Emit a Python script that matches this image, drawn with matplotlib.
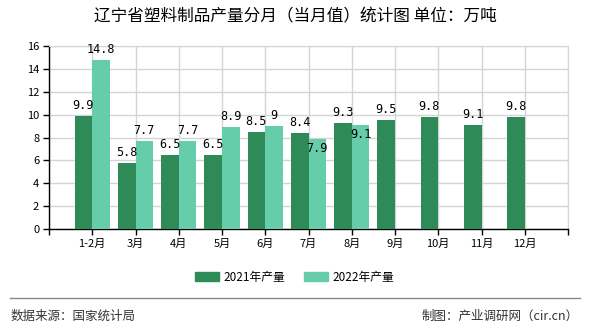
import matplotlib.pyplot as plt
from matplotlib.patches import Patch
from matplotlib.lines import Line2D

plt.rcParams['font.family'] = ['Noto Sans CJK SC', 'DejaVu Sans']

# ================
# Data
# ================
months = ['1-2月', '3月', '4月', '5月', '6月', '7月', '8月', '9月', '10月', '11月', '12月']
prod_2021 = [9.9, 5.8, 6.5, 6.5, 8.5, 8.4, 9.3, 9.5, 9.8, 9.1, 9.8]
prod_2022 = [14.8, 7.7, 7.7, 8.9, 9.0, 7.9, 9.1]
yticks = [0, 2, 4, 6, 8, 10, 12, 14, 16]

c21 = '#2e8b57'
c22 = '#66cdaa'

fig = plt.figure(figsize=(5.9, 3.3), dpi=100)
ax = fig.add_axes([49 / 590, 1 - 229 / 330, 519 / 590, 183 / 330])

w = 0.41
xs = list(range(1, len(months) + 1))
ax.bar([x - w / 2 for x in xs], prod_2021, width=w, color=c21, zorder=3)
ax.bar([x + w / 2 for x in xs[:len(prod_2022)]], prod_2022, width=w, color=c22, zorder=3)

def fmt(v):
    return f'{v:g}'

lab = dict(fontsize=8.5, family='DejaVu Sans Mono', zorder=4, ha='center')
for i, v in enumerate(prod_2021):
    ax.text(xs[i] - w / 2, v + 0.35, fmt(v), va='bottom', **lab)
for i, v in enumerate(prod_2022):
    if prod_2021[i] > v:
        # label sits inside the bar when the neighbour is taller
        ax.text(xs[i] + w / 2, v - 0.3, fmt(v), va='top', **lab)
    else:
        ax.text(xs[i] + w / 2, v + 0.35, fmt(v), va='bottom', **lab)

ax.set_xlim(0, 12)
ax.set_ylim(0, 16)
ax.set_yticks(yticks)
ax.set_xticks(range(0, 13))
ax.set_xticklabels([''] + months + [''], fontsize=8)
ax.tick_params(axis='y', labelsize=8, length=4, width=1, color='black', pad=3)
ax.tick_params(axis='x', length=4, width=1, color='black', pad=3)
ax.grid(True, color='#d4d4d4', linewidth=1, zorder=0)
for side in ['top', 'right']:
    ax.spines[side].set_color('#d4d4d4')
for side in ['left', 'bottom']:
    ax.spines[side].set_color('black')
    ax.spines[side].set_linewidth(1)

fig.text(0.5, 1 - 17 / 330, '辽宁省塑料制品产量分月（当月值）统计图 单位：万吨',
         ha='center', va='center', fontsize=12)

handles = [Patch(color=c21), Patch(color=c22)]
fig.legend(handles, ['2021年产量', '2022年产量'], loc='center',
           bbox_to_anchor=(0.5, 1 - 277 / 330), ncol=2, frameon=False,
           fontsize=8.5, handlelength=2.0, handleheight=0.7, columnspacing=1.6,
           handletextpad=0.4)

fig.add_artist(Line2D([10 / 590, 580 / 590], [1 - 298 / 330] * 2, color='#888888', linewidth=1))
fig.text(11 / 590, 1 - 316 / 330, '数据来源：国家统计局', ha='left', va='center', fontsize=9, color='#333333')
fig.text(579 / 590, 1 - 316 / 330, '制图：产业调研网（cir.cn）', ha='right', va='center', fontsize=9, color='#333333')

fig.savefig('out.png', dpi=100)
